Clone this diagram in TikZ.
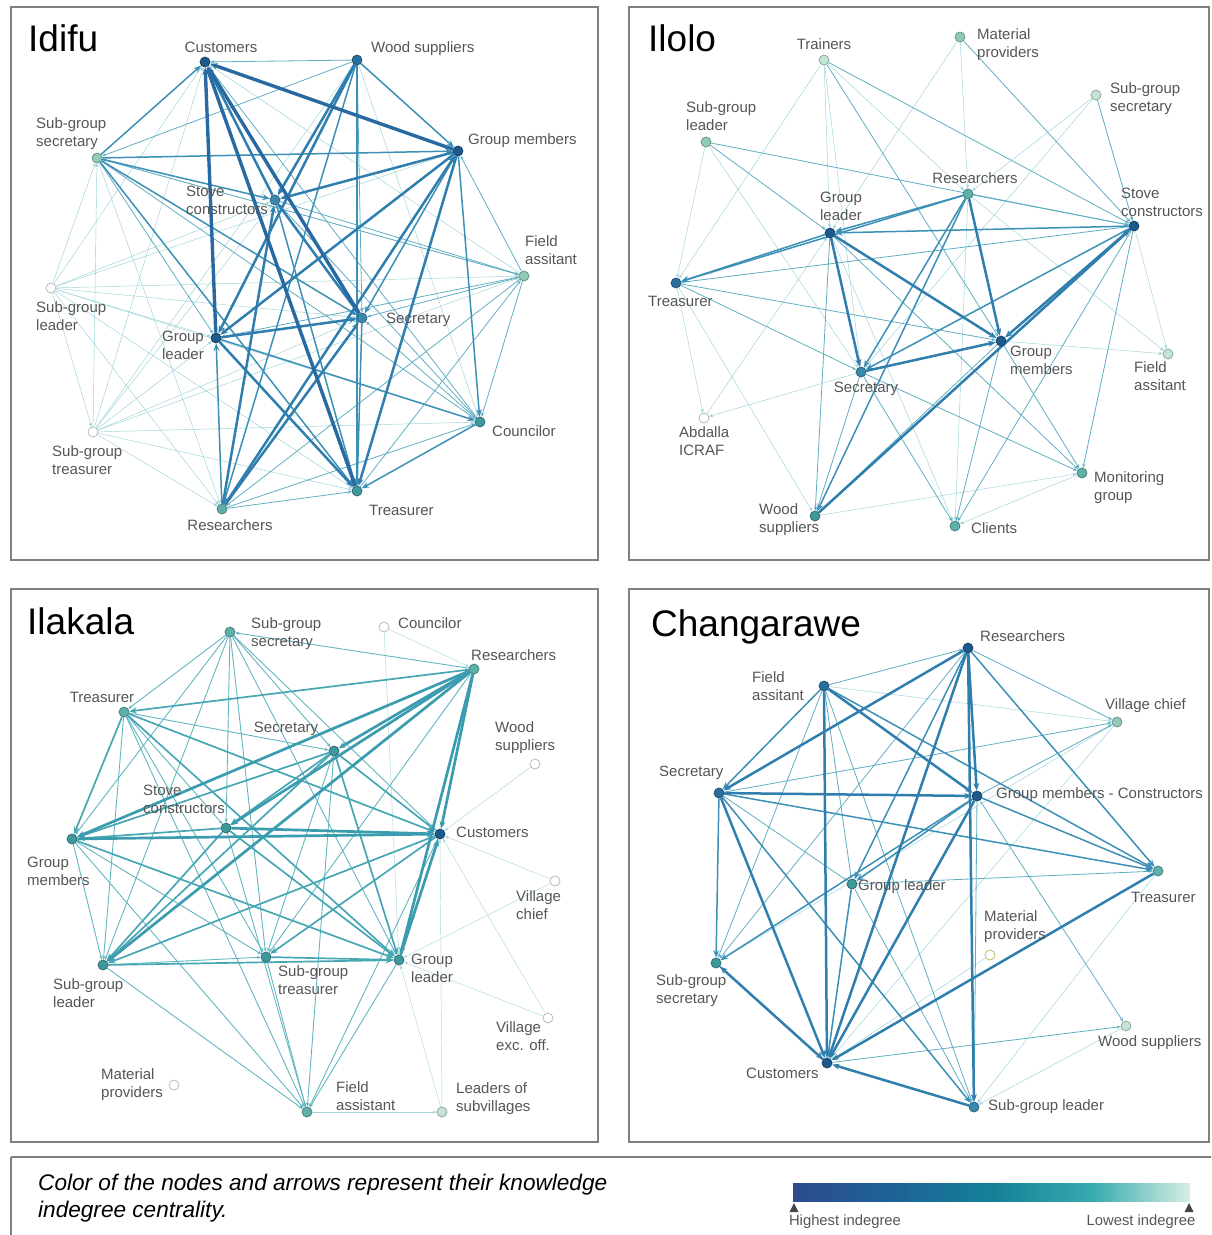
\documentclass[tikz,border=0pt]{standalone}
\usepackage{fontspec}
\setmainfont{Liberation Sans}
\usetikzlibrary{arrows.meta,backgrounds}
\definecolor{k1}{HTML}{1C5A8C}
\definecolor{k2}{HTML}{2A6E9E}
\definecolor{k3}{HTML}{3A88AE}
\definecolor{k4}{HTML}{3E989C}
\definecolor{k5}{HTML}{5EB0A8}
\definecolor{k6}{HTML}{92CAB8}
\definecolor{k7}{HTML}{C4E4D4}
\definecolor{lblc}{HTML}{555555}
\definecolor{frmc}{HTML}{808080}
\definecolor{ec0}{HTML}{9AD2D8}
\definecolor{ec1}{HTML}{5FAEC2}
\definecolor{ec2}{HTML}{3C90B6}
\definecolor{ec3}{HTML}{2F7EAE}
\definecolor{ec4}{HTML}{2869A2}
\definecolor{tc0}{HTML}{A8D8DC}
\definecolor{tc1}{HTML}{62B6C0}
\definecolor{tc2}{HTML}{46A6B4}
\definecolor{tc3}{HTML}{3A9CAE}
\definecolor{g1}{HTML}{2D4B8E}
\definecolor{g2}{HTML}{1D6396}
\definecolor{g3}{HTML}{158098}
\definecolor{g4}{HTML}{37ABB0}
\definecolor{g5}{HTML}{D6EEE2}
\definecolor{tric}{HTML}{444444}
\begin{document}
\begin{tikzpicture}[x=1pt,y=-1pt,
  nd/.style={circle,inner sep=0pt,minimum size=10pt,line width=0.7pt,fill=#1,draw=#1!70!black},
  lbl/.style={font=\fontsize{15}{18}\selectfont,text=lblc,inner sep=0pt,align=left},
  lblr/.style={font=\fontsize{15}{18}\selectfont,text=lblc,inner sep=0pt,align=right},
  ttl/.style={font=\fontsize{37}{40}\selectfont,inner sep=0pt,anchor=base west},
  frm/.style={draw=frmc,line width=1.5pt},
  tipS/.style={-{Stealth[length=4pt,width=3.2pt]}},
  tipL/.style={-{Stealth[length=7.5pt,width=6pt]}},
  e0/.style={line width=0.45pt,draw=ec0,tipS},
  e1/.style={line width=0.8pt,draw=ec1,tipS},
  e2/.style={line width=1.5pt,draw=ec2,tipL},
  e3/.style={line width=2.5pt,draw=ec3,tipL},
  e4/.style={line width=3.4pt,draw=ec4,tipL},
  t0/.style={line width=0.45pt,draw=tc0,tipS},
  t1/.style={line width=0.9pt,draw=tc1,tipS},
  t2/.style={line width=1.7pt,draw=tc2,tipL},
  t3/.style={line width=2.7pt,draw=tc3,tipL}]
\useasboundingbox (0,0) rectangle (1211,1235);
\clip (0,0) rectangle (1211,1235);

% frames
\draw[frm] (11,7) rectangle (598,560);
\draw[frm] (629,7) rectangle (1209,560);
\draw[frm] (11,589) rectangle (598,1142);
\draw[frm] (629,589) rectangle (1209,1142);
\draw[frm] (11,1157) -- (1220,1157);
\draw[frm] (11,1157) -- (11,1245);

% ================= Idifu =================
\node[ttl] (a-title) at (28,51) {Idifu};
\node[nd=k1] (a-Cu) at (205,62) {};
\node[nd=k2] (a-WS) at (357,60) {};
\node[nd=k1] (a-GM) at (458,151) {};
\node[nd=k6] (a-SS) at (97,158) {};
\node[nd=k3] (a-SC) at (275,200) {};
\node[nd=k6] (a-FA) at (524,276) {};
\node[nd=white] (a-SL) at (51,288) {};
\node[nd=k1] (a-GL) at (216,338) {};
\node[nd=k3] (a-Se) at (362,318) {};
\node[nd=white] (a-ST) at (93,432) {};
\node[nd=k4] (a-Co) at (480,422) {};
\node[nd=k5] (a-Re) at (222,509) {};
\node[nd=k4] (a-Tr) at (357,491) {};
\node[lbl] (a-Cu-l) at (221,47) {Customers};
\node[lbl,anchor=west] (a-WS-l) at (371,49) {Wood suppliers};
\node[lbl,anchor=west] (a-GM-l) at (468,141) {Group members};
\node[lbl,anchor=west] (a-SS-l) at (36,134) {Sub-group\\secretary};
\node[lbl,anchor=west] (a-SC-l) at (186,200) {Stove\\constructors};
\node[lbl,anchor=west] (a-FA-l) at (525,250) {Field\\assitant};
\node[lbl,anchor=west] (a-SL-l) at (36,316) {Sub-group\\leader};
\node[lblr,anchor=east] (a-GL-l) at (204,345) {Group\\leader};
\node[lbl,anchor=west] (a-Se-l) at (386,320) {Secretary};
\node[lbl,anchor=west] (a-ST-l) at (52,460) {Sub-group\\treasurer};
\node[lbl,anchor=west] (a-Co-l) at (492,431) {Councilor};
\node[lbl] (a-Re-l) at (230,525) {Researchers};
\node[lbl,anchor=west] (a-Tr-l) at (369,510) {Treasurer};
\begin{scope}[on background layer]
\foreach \u/\v in {SL/Cu,SL/GM,SL/SC,SL/Se,SL/GL,SL/Re,SL/Tr,SL/ST,SL/SS,SL/Co,SL/FA,ST/SS,ST/Cu,ST/SC,ST/GL,ST/Se,ST/Re,ST/Tr,ST/Co,ST/FA,ST/WS,SS/Re,FA/Cu,WS/Co,SS/FA}
  \draw[e0] (a-\u) -- (a-\v);
\foreach \u/\v in {SS/GL,WS/Cu,FA/Se,FA/GL,FA/SS,FA/GM,FA/Co,FA/Re,Re/Tr,Re/Co,Co/SC,Co/Se,WS/Se,WS/SS,SC/FA,Co/Cu,Tr/FA,SS/Co}
  \draw[e1] (a-\u) -- (a-\v);
\foreach \u/\v in {SS/Cu,SS/GM,SS/SC,SS/Se,SS/Tr,WS/Re,WS/Tr,WS/GM,GM/Se,GM/Co,GL/Co,Se/Tr,SC/Tr,Co/Tr,Re/GL}
  \draw[e2] (a-\u) -- (a-\v);
\foreach \u/\v in {WS/GL,GM/GL,Re/GM,Re/SC,Re/Se,GL/Se,GL/Tr,SC/Cu,SC/Se,GM/Tr,WS/SC,GM/SC}
  \draw[e3] (a-\u) -- (a-\v);
\foreach \u/\v in {GM/Cu,Se/Cu,Tr/Cu,GL/Cu}
  \draw[e4] (a-\u) -- (a-\v);
\end{scope}

% ================= Ilolo =================
\node[ttl] (b-title) at (648,51) {Ilolo};
\node[nd=k7] (b-Tn) at (824,60) {};
\node[nd=k6] (b-MP) at (960,37) {};
\node[nd=k7] (b-SS) at (1096,95) {};
\node[nd=k6] (b-SL) at (706,142) {};
\node[nd=k5] (b-Re) at (968,194) {};
\node[nd=k1] (b-SC) at (1134,226) {};
\node[nd=k1] (b-GL) at (830,233) {};
\node[nd=k2] (b-Tr) at (676,283) {};
\node[nd=k1] (b-GM) at (1001,341) {};
\node[nd=k7] (b-FA) at (1168,354) {};
\node[nd=k3] (b-Se) at (861,372) {};
\node[nd=white] (b-AI) at (704,418) {};
\node[nd=k5] (b-MG) at (1082,473) {};
\node[nd=k4] (b-WS) at (815,516) {};
\node[nd=k5] (b-Cl) at (955,526) {};
\node[lbl] (b-Tn-l) at (824,44) {Trainers};
\node[lbl,anchor=west] (b-MP-l) at (977,45) {Material\\providers};
\node[lbl,anchor=west] (b-SS-l) at (1110,99) {Sub-group\\secretary};
\node[lbl,anchor=west] (b-SL-l) at (686,116) {Sub-group\\leader};
\node[lbl] (b-Re-l) at (975,178) {Researchers};
\node[lbl,anchor=west] (b-SC-l) at (1121,202) {Stove\\constructors};
\node[lbl,align=center] (b-GL-l) at (841,206) {Group\\leader};
\node[lbl,anchor=west] (b-Tr-l) at (648,301) {Treasurer};
\node[lbl,anchor=west] (b-GM-l) at (1010,360) {Group\\members};
\node[lbl,anchor=west] (b-FA-l) at (1134,376) {Field\\assitant};
\node[lbl] (b-Se-l) at (866,389) {Secretary};
\node[lbl,anchor=west] (b-AI-l) at (679,441) {Abdalla\\ICRAF};
\node[lbl,anchor=west] (b-MG-l) at (1094,488) {Monitoring\\group};
\node[lbl,anchor=west] (b-WS-l) at (759,520) {Wood\\suppliers};
\node[lbl,anchor=west] (b-Cl-l) at (971,528) {Clients};
\begin{scope}[on background layer]
\foreach \u/\v in {Tn/Tr,Tn/Se,MP/GL,MP/Re,SS/Re,SS/Se,SL/Tr,SL/Se,Re/FA,Re/Cl,SC/FA,GL/Cl,Tr/AI,Tr/WS,GM/FA,Se/AI,WS/MG,MG/Cl,AI/GL,Tn/GL,Tn/Re}
  \draw[e0] (b-\u) -- (b-\v);
\foreach \u/\v in {Tn/SC,Tn/GM,MP/SC,SS/SC,SL/SC,SL/GL,Re/SC,SC/Tr,SC/MG,SC/Cl,GL/MG,GL/WS,Tr/GM,Tr/Se,GM/WS,GM/MG,GM/Cl,Se/WS,Se/Cl,Se/MG}
  \draw[e1] (b-\u) -- (b-\v);
\foreach \u/\v in {Re/GL,Re/Tr,Re/Se,Re/WS,SC/GL,SC/Se,GL/Tr}
  \draw[e2] (b-\u) -- (b-\v);
\foreach \u/\v in {Re/GM,SC/GM,WS/SC,GL/Se,GL/GM,Se/GM}
  \draw[e3] (b-\u) -- (b-\v);
\end{scope}

% ================= Ilakala =================
\node[ttl] (c-title) at (27,634) {Ilakala};
\node[nd=k5] (c-SS) at (230,632) {};
\node[nd=white] (c-Co) at (384,627) {};
\node[nd=k5] (c-Re) at (474,669) {};
\node[nd=k5] (c-Tr) at (124,712) {};
\node[nd=k4] (c-Se) at (334,751) {};
\node[nd=white] (c-WS) at (535,764) {};
\node[nd=k4] (c-SC) at (226,828) {};
\node[nd=k1] (c-Cu) at (440,834) {};
\node[nd=k4] (c-GM) at (72,839) {};
\node[nd=white] (c-VC) at (555,881) {};
\node[nd=k4] (c-STr) at (266,957) {};
\node[nd=k4] (c-GL) at (399,960) {};
\node[nd=k4] (c-SL) at (103,965) {};
\node[nd=white] (c-VE) at (548,1018) {};
\node[nd=white] (c-MP) at (174,1085) {};
\node[nd=k5] (c-FA) at (307,1112) {};
\node[nd=k7] (c-LS) at (442,1112) {};
\node[lbl,anchor=west] (c-SS-l) at (251,634) {Sub-group\\secretary};
\node[lbl,anchor=west] (c-Co-l) at (398,623) {Councilor};
\node[lbl,anchor=west] (c-Re-l) at (471,655) {Researchers};
\node[lbl] (c-Tr-l) at (102,697) {Treasurer};
\node[lbl] (c-Se-l) at (286,729) {Secretary};
\node[lbl,anchor=west] (c-WS-l) at (495,738) {Wood\\suppliers};
\node[lbl,anchor=west] (c-SC-l) at (143,799) {Stove\\constructors};
\node[lbl,anchor=west] (c-Cu-l) at (456,832) {Customers};
\node[lbl,anchor=west] (c-GM-l) at (27,871) {Group\\members};
\node[lbl,anchor=west] (c-VC-l) at (516,905) {Village\\chief};
\node[lbl,anchor=west] (c-STr-l) at (278,980) {Sub-group\\treasurer};
\node[lbl,anchor=west] (c-GL-l) at (411,968) {Group\\leader};
\node[lbl,anchor=west] (c-SL-l) at (53,993) {Sub-group\\leader};
\node[lbl,anchor=west] (c-VE-l) at (496,1036) {Village\\exc. off.};
\node[lbl,anchor=west] (c-MP-l) at (101,1085) {Material\\providers};
\node[lbl,anchor=west] (c-FA-l) at (336,1096) {Field\\assistant};
\node[lbl,anchor=west] (c-LS-l) at (456,1099) {Leaders of\\subvillages};
\begin{scope}[on background layer]
\foreach \u/\v in {Co/GL,Co/Re,WS/Cu,VC/Cu,VE/Cu,VC/GL,VE/GL,LS/Cu,LS/GL,FA/LS}
  \draw[t0] (c-\u) -- (c-\v);
\foreach \u/\v in {Re/SS,SS/Tr,SS/GM,SS/SL,SS/SC,SS/Cu,SS/STr,SS/GL,SS/Se,Tr/STr,Tr/FA,Tr/SL,Tr/Se,GM/STr,GM/FA,SL/FA,GL/FA,STr/FA,Se/STr,Se/FA,Re/STr,Tr/SC,SC/FA,GM/SL,SL/STr,Cu/FA}
  \draw[t1] (c-\u) -- (c-\v);
\foreach \u/\v in {Re/Tr,Tr/Cu,Tr/GL,Tr/GM,Se/GM,Se/SL,Se/GL,Se/Cu,SC/GM,SC/GL,SC/SL,GM/GL,SL/GL,Cu/SL,Cu/STr,Se/SC,STr/GL}
  \draw[t2] (c-\u) -- (c-\v);
\foreach \u/\v in {Re/Se,Re/SC,Re/GM,Re/SL,Re/Cu,Re/GL,GM/Cu,SC/Cu,GL/Cu}
  \draw[t3] (c-\u) -- (c-\v);
\end{scope}

% ================= Changarawe =================
\node[ttl] (d-title) at (651,636) {Changarawe};
\node[nd=k1] (d-Re) at (968,648) {};
\node[nd=k2] (d-FA) at (824,686) {};
\node[nd=k6] (d-VC) at (1117,722) {};
\node[nd=k2] (d-Se) at (719,793) {};
\node[nd=k1] (d-GM) at (977,796) {};
\node[nd=k5] (d-Tr) at (1158,871) {};
\node[nd=k4] (d-GL) at (852,884) {};
\node[circle,inner sep=0pt,minimum size=10pt,line width=0.7pt,fill=white,draw=olive!60] (d-MP) at (990,955) {};
\node[nd=k4] (d-SS) at (716,963) {};
\node[nd=k7] (d-WS) at (1126,1026) {};
\node[nd=k1] (d-Cu) at (827,1063) {};
\node[nd=k3] (d-SL) at (974,1107) {};
\node[lbl,anchor=west] (d-Re-l) at (980,636) {Researchers};
\node[lbl,anchor=west] (d-FA-l) at (752,686) {Field\\assitant};
\node[lbl,anchor=west] (d-VC-l) at (1105,706) {Village chief};
\node[lbl,anchor=west] (d-Se-l) at (659,773) {Secretary};
\node[lbl,anchor=west] (d-GM-l) at (996,795) {Group members - Constructors};
\node[lbl,anchor=west] (d-Tr-l) at (1131,897) {Treasurer};
\node[lbl,anchor=west] (d-GL-l) at (858,887) {Group leader};
\node[lbl,anchor=west] (d-MP-l) at (984,927) {Material\\providers};
\node[lbl,anchor=west] (d-SS-l) at (656,991) {Sub-group\\secretary};
\node[lbl,anchor=west] (d-WS-l) at (1098,1043) {Wood suppliers};
\node[lbl,anchor=west] (d-Cu-l) at (746,1073) {Customers};
\node[lbl,anchor=west] (d-SL-l) at (988,1107) {Sub-group leader};
\begin{scope}[on background layer]
\foreach \u/\v in {MP/Cu,VC/Cu,FA/VC,Tr/SL,WS/SL,VC/SS}
  \draw[e0] (d-\u) -- (d-\v);
\foreach \u/\v in {Re/VC,FA/Re,FA/SL,FA/SS,Se/VC,GM/VC,GM/WS,Cu/WS,GL/SL,GL/Tr,Se/GL,Re/SS,FA/GL,GM/SL}
  \draw[e1] (d-\u) -- (d-\v);
\foreach \u/\v in {Re/GL,FA/Se,FA/Tr,Se/Tr,Se/SS,Se/SL,GM/Tr,GM/SS,GL/Cu,SS/Cu,Re/Tr,GM/GL}
  \draw[e2] (d-\u) -- (d-\v);
\foreach \u/\v in {Re/Se,Re/GM,Re/SL,Re/Cu,FA/GM,FA/Cu,Se/GM,Se/Cu,GM/Cu,Tr/Cu,Cu/SS,SL/Cu}
  \draw[e3] (d-\u) -- (d-\v);
\end{scope}

% ================= Legend =================
\node[font=\fontsize{22.6}{27}\selectfont\itshape,anchor=west,align=left,inner sep=0pt] (leg-t) at (38,1198) {Color of the nodes and arrows represent their knowledge\\indegree centrality.};
\shade[left color=g1,right color=g2] (793,1183) rectangle (893.5,1201);
\shade[left color=g2,right color=g3] (893,1183) rectangle (993.5,1201);
\shade[left color=g3,right color=g4] (993,1183) rectangle (1093.5,1201);
\shade[left color=g4,right color=g5] (1093,1183) rectangle (1190,1201);
\fill[tric] (794,1203) -- (789.5,1212) -- (798.5,1212) -- cycle;
\fill[tric] (1189,1203) -- (1184.5,1212) -- (1193.5,1212) -- cycle;
\node[font=\fontsize{14.8}{16}\selectfont,text=lblc,inner sep=0pt] (leg-h) at (845,1222) {Highest indegree};
\node[font=\fontsize{14.8}{16}\selectfont,text=lblc,inner sep=0pt] (leg-l) at (1141,1222) {Lowest indegree};
\end{tikzpicture}
\end{document}
